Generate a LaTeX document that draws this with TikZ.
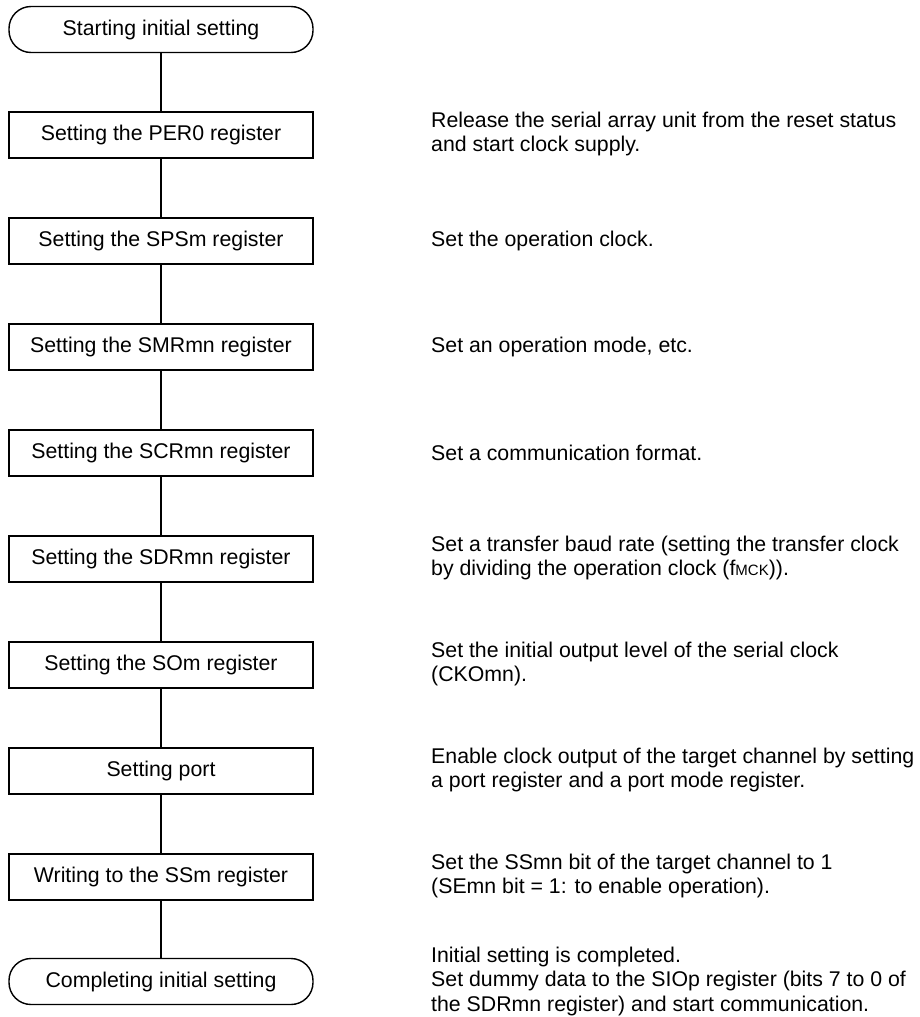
\documentclass[tikz,border=0pt]{standalone}
\usepackage{fontspec}
\setmainfont{Liberation Sans}
\begin{document}
\begin{tikzpicture}[x=1pt, y=-1pt,
  every node/.style={font=\fontsize{21.3}{24.5}\selectfont},
  stepbox/.style={draw, line width=1.4pt, minimum width=304pt, minimum height=46pt, inner sep=0pt},
  termbox/.style={stepbox, rounded corners=22pt},
  note/.style={anchor=west, align=left, inner sep=0pt}]
\useasboundingbox (0,0) rectangle (919,1017);
\node[termbox] (start) at (161,29.5) {Starting initial setting};
\node[stepbox] (per) at (161,135) {Setting the PER0 register};
\node[stepbox] (sps) at (161,241) {Setting the SPSm register};
\node[stepbox] (smr) at (161,347) {Setting the SMRmn register};
\node[stepbox] (scr) at (161,453) {Setting the SCRmn register};
\node[stepbox] (sdr) at (161,559) {Setting the SDRmn register};
\node[stepbox] (som) at (161,665) {Setting the SOm register};
\node[stepbox] (port) at (161,771) {Setting port};
\node[stepbox] (ssm) at (161,877) {Writing to the SSm register};
\node[termbox] (done) at (161,981.5) {Completing initial setting};
\draw[line width=1.4pt] (start) -- (per) -- (sps) -- (smr) -- (scr) -- (sdr) -- (som) -- (port) -- (ssm) -- (done);
% notes on the right
\node[note] (perNote) at (431,134) {Release the serial array unit from the reset status\\and start clock supply.};
\node[note] (spsNote) at (431,241) {Set the operation clock.};
\node[note] (smrNote) at (431,347) {Set an operation mode, etc.};
\node[note] (scrNote) at (431,453) {Set a communication format.};
\node[note] (sdrNote) at (431,558) {Set a transfer baud rate (setting the transfer clock\\by dividing the operation clock (f{\fontsize{15}{15}\selectfont MCK})).};
\node[note] (somNote) at (431,664) {Set the initial output level of the serial clock\\(CKOmn).};
\node[note] (portNote) at (431,770) {Enable clock output of the target channel by setting\\a port register and a port mode register.};
\node[note] (ssmNote) at (431,876) {Set the SSmn bit of the target channel to 1\\(SEmn bit = 1: to enable operation).};
\node[note] (doneNote) at (431,981) {Initial setting is completed.\\Set dummy data to the SIOp register (bits 7 to 0 of\\the SDRmn register) and start communication.};
\end{tikzpicture}
\end{document}
